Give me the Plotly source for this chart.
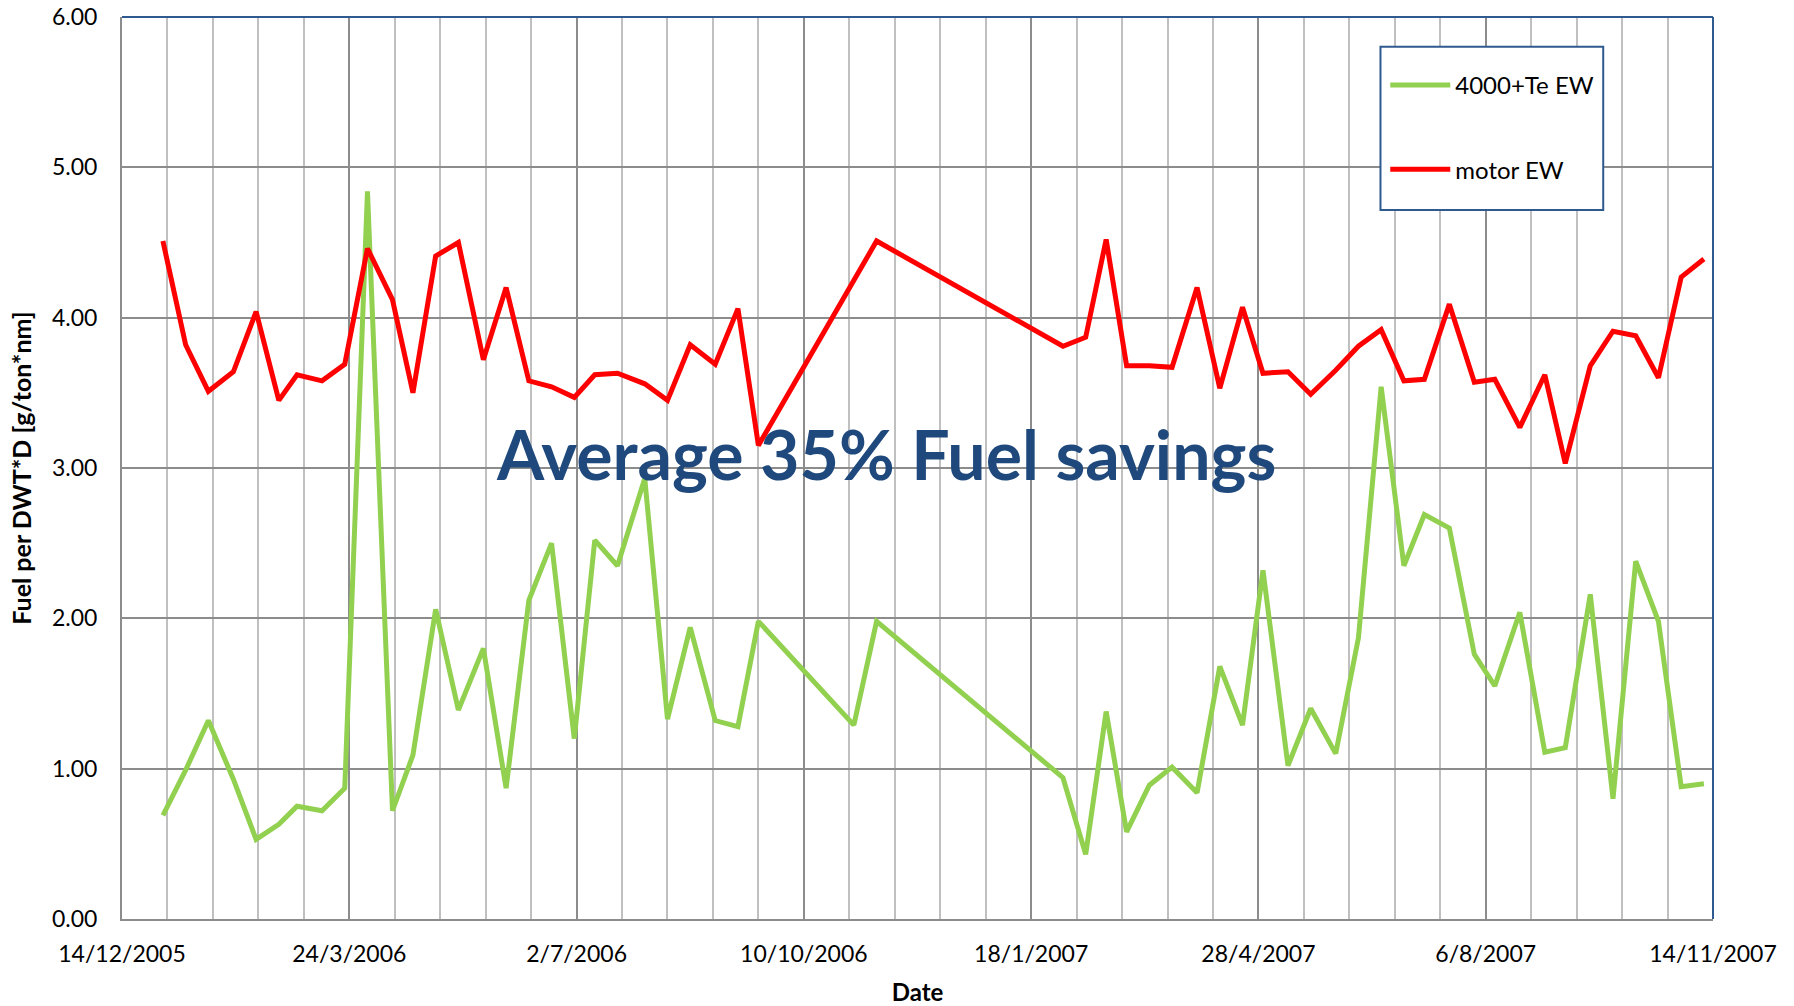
import plotly.graph_objects as go

# readings roughly every 10 days (dd-mm taken off the chart)
dates = [
    "2006-01-01", "2006-01-11", "2006-01-21", "2006-02-01", "2006-02-11", "2006-02-21",
    "2006-03-01", "2006-03-12", "2006-03-22", "2006-04-01", "2006-04-12", "2006-04-21",
    "2006-05-01", "2006-05-11", "2006-05-22", "2006-06-01", "2006-06-11", "2006-06-21",
    "2006-07-01", "2006-07-10", "2006-07-20", "2006-08-01", "2006-08-11", "2006-08-21",
    "2006-09-01", "2006-09-11", "2006-09-20", "2006-11-01", "2006-11-11",
    "2007-02-01", "2007-02-11", "2007-02-20", "2007-03-01", "2007-03-11", "2007-03-21",
    "2007-04-01", "2007-04-11", "2007-04-21", "2007-04-30", "2007-05-11", "2007-05-21",
    "2007-06-01", "2007-06-11", "2007-06-21", "2007-07-01", "2007-07-10", "2007-07-21",
    "2007-08-01", "2007-08-10", "2007-08-21", "2007-09-01", "2007-09-10", "2007-09-21",
    "2007-10-01", "2007-10-11", "2007-10-21", "2007-10-31", "2007-11-10",
]

te_ew = [
    0.69, 0.99, 1.32, 0.93, 0.53, 0.63,
    0.75, 0.72, 0.87, 4.84, 0.72, 1.09,
    2.06, 1.39, 1.80, 0.87, 2.12, 2.50,
    1.20, 2.52, 2.35, 2.93, 1.33, 1.94,
    1.32, 1.28, 1.98, 1.29, 1.98,
    0.94, 0.43, 1.38, 0.58, 0.89, 1.01,
    0.84, 1.68, 1.29, 2.32, 1.02, 1.40,
    1.10, 1.87, 3.54, 2.35, 2.69, 2.60,
    1.76, 1.55, 2.04, 1.11, 1.14, 2.16,
    0.80, 2.38, 1.98, 0.88, 0.90,
]

motor_ew = [
    4.51, 3.82, 3.51, 3.64, 4.04, 3.45,
    3.62, 3.58, 3.69, 4.46, 4.12, 3.50,
    4.41, 4.50, 3.72, 4.20, 3.58, 3.54,
    3.47, 3.62, 3.63, 3.56, 3.45, 3.82,
    3.69, 4.06, 3.15, None, 4.51,
    3.81, 3.87, 4.52, 3.68, 3.68, 3.67,
    4.20, 3.53, 4.07, 3.63, 3.64, 3.49,
    3.65, 3.81, 3.92, 3.58, 3.59, 4.09,
    3.57, 3.59, 3.27, 3.62, 3.03, 3.68,
    3.91, 3.88, 3.60, 4.27, 4.39,
]

DAY = 86400000
FONT = "Lato"
BLUE = "#2f5a8f"
GRID = "#8c8c8c"

fig = go.Figure()
fig.add_trace(go.Scatter(x=dates, y=te_ew, mode="lines", name="4000+Te EW",
                         line=dict(color="#92d050", width=5), legendgroup="a"))
fig.add_trace(go.Scatter(x=dates, y=motor_ew, mode="lines", name="motor EW",
                         line=dict(color="#ff0000", width=5), legendgroup="b",
                         connectgaps=True))

fig.add_annotation(text="<b>Average 35% Fuel savings</b>", xref="paper", yref="paper",
                   x=0.480, y=0.516, showarrow=False,
                   font=dict(family=FONT, size=68, color="#1f497d"))

# blue frame on top and right, legend box
fig.add_shape(type="line", xref="paper", yref="paper", x0=0, x1=1, y0=1, y1=1,
              line=dict(color=BLUE, width=2), layer="above")
fig.add_shape(type="line", xref="paper", yref="paper", x0=1, x1=1, y0=0, y1=1,
              line=dict(color=BLUE, width=2), layer="above")
fig.add_shape(type="rect", xref="paper", yref="paper", x0=0.791, x1=0.931, y0=0.786, y1=0.967,
              line=dict(color=BLUE, width=2), fillcolor="white", layer="above")

fig.update_xaxes(
    type="date", range=["2005-12-14", "2007-11-14"],
    tick0="2005-12-14", dtick=100 * DAY, tickformat="%-d/%-m/%Y",
    showgrid=True, gridcolor=GRID, gridwidth=1.5,
    minor=dict(tick0="2005-12-14", dtick=20 * DAY, showgrid=True, gridcolor="#c0c0c0", gridwidth=1.5),
    showline=True, linecolor=GRID, linewidth=2,
    ticks="outside", ticklen=13, tickcolor="rgba(0,0,0,0)", automargin=False,
    tickfont=dict(family=FONT, size=23, color="black"),
    title=dict(text="<b>Date</b>", font=dict(family=FONT, size=24, color="black"), standoff=26),
)
fig.update_yaxes(
    range=[0, 6], dtick=1, tickformat=".2f",
    showgrid=True, gridcolor=GRID, gridwidth=1.5,
    showline=True, linecolor=GRID, linewidth=2, zeroline=False,
    ticks="outside", ticklen=18, tickcolor="rgba(0,0,0,0)", automargin=False,
    tickfont=dict(family=FONT, size=23, color="black"),
    title=dict(text="<b>Fuel per DWT*D [g/ton*nm]</b>", font=dict(family=FONT, size=25, color="black"), standoff=13),
)
fig.update_layout(
    width=1794, height=1006,
    margin=dict(l=122, r=81, t=17, b=87),
    plot_bgcolor="white", paper_bgcolor="white",
    legend=dict(x=0.794, y=0.949, xanchor="left", yanchor="top",
                bgcolor="rgba(0,0,0,0)", borderwidth=0, itemwidth=60,
                tracegroupgap=50, font=dict(family=FONT, size=24, color="black")),
)

fig.write_html("out.html", config={"displayModeBar": False},
               post_script="document.body.style.margin='0';")
